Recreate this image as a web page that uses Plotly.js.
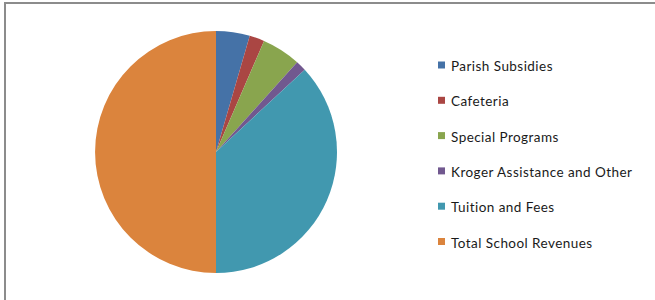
<!DOCTYPE html>
<html>
<head>
<meta charset="utf-8">
<script src="https://cdn.plot.ly/plotly-3.0.1.min.js"></script>
<style>
html,body{margin:0;padding:0;background:#fff;}
#chart{width:655px;height:300px;}
#chart .annotation-text{letter-spacing:0.45px;}
</style>
</head>
<body>
<div id="chart"></div>
<script>
var categories = ["Parish Subsidies", "Cafeteria", "Special Programs", "Kroger Assistance and Other", "Tuition and Fees", "Total School Revenues"];
var values = [4.5, 2.0, 5.2, 1.4, 36.9, 50.0];
var colors = ["#4572A7", "#AA4643", "#89A54E", "#71588F", "#4198AF", "#DB843D"];

var W = 655, H = 300;
var trace = {
  type: "pie",
  labels: categories,
  values: values,
  sort: false,
  direction: "clockwise",
  rotation: 0,
  textinfo: "none",
  hoverinfo: "label+value",
  marker: {colors: colors, line: {width: 0}},
  domain: {x: [95 / W, 337 / W], y: [27 / H, 269 / H]},
  showlegend: false
};

var shapes = [
  {type: "line", xref: "paper", yref: "paper", x0: 5 / W, x1: 5 / W, y0: 0, y1: 297 / H, line: {color: "#8c8c8c", width: 2}},
  {type: "line", xref: "paper", yref: "paper", x0: 4 / W, x1: 1, y0: 297 / H, y1: 297 / H, line: {color: "#8c8c8c", width: 2}}
];
var annotations = [];
categories.forEach(function (c, i) {
  var cy = 65 + i * 35.3;
  shapes.push({type: "rect", xref: "paper", yref: "paper",
    x0: 438 / W, x1: 445 / W, y0: 1 - (cy - 3.5) / H, y1: 1 - (cy + 3.5) / H,
    fillcolor: colors[i], line: {width: 0}});
  annotations.push({xref: "paper", yref: "paper", x: 449 / W, y: 1 - (cy + 1) / H,
    xanchor: "left", yanchor: "middle", align: "left", showarrow: false, text: c,
    font: {family: "Lato, sans-serif", size: 13.5, color: "#1a1a1a"}});
});

var layout = {
  width: W, height: H,
  margin: {l: 0, r: 0, t: 0, b: 0},
  paper_bgcolor: "#ffffff",
  showlegend: false,
  shapes: shapes,
  annotations: annotations
};
Plotly.newPlot("chart", [trace], layout, {displayModeBar: false, staticPlot: true});
</script>
</body>
</html>
